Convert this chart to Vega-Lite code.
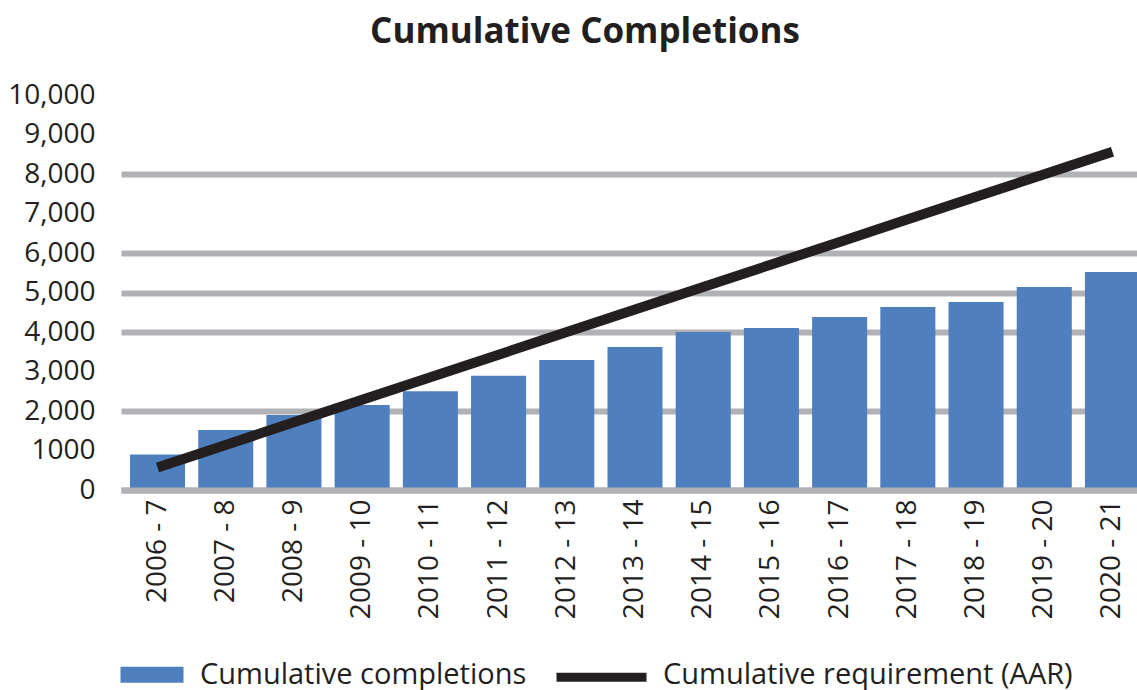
{
  "$schema": "https://vega.github.io/schema/vega-lite/v6.json",
  "autosize": {"type": "none"},
  "padding": {"left": 121, "top": 95, "right": 0, "bottom": 200},
  "width": 1016,
  "height": 395,
  "background": "white",
  "config": {
    "view": {"stroke": null},
    "axisY": {
      "labelFont": "Open Sans",
      "labelFontSize": 28,
      "labelColor": "#231F20",
      "labelPadding": 26,
      "labelOverlap": false,
      "ticks": false,
      "tickSize": 0,
      "domain": false,
      "gridColor": "#B1B2B5",
      "gridWidth": 6
    }
  },
  "title": {
    "text": "Cumulative Completions",
    "font": "Open Sans",
    "fontSize": 35,
    "fontWeight": "bold",
    "color": "#231F20",
    "anchor": "middle",
    "frame": "group",
    "baseline": "alphabetic",
    "dx": -44,
    "offset": 3
  },
  "data": {
    "values": [
      {"period": "2006 - 7", "completions": 900, "requirement": 571},
      {"period": "2007 - 8", "completions": 1520, "requirement": 1142},
      {"period": "2008 - 9", "completions": 1900, "requirement": 1713},
      {"period": "2009 - 10", "completions": 2150, "requirement": 2284},
      {"period": "2010 - 11", "completions": 2500, "requirement": 2855},
      {"period": "2011 - 12", "completions": 2890, "requirement": 3426},
      {"period": "2012 - 13", "completions": 3290, "requirement": 3997},
      {"period": "2013 - 14", "completions": 3620, "requirement": 4568},
      {"period": "2014 - 15", "completions": 4000, "requirement": 5139},
      {"period": "2015 - 16", "completions": 4100, "requirement": 5710},
      {"period": "2016 - 17", "completions": 4380, "requirement": 6281},
      {"period": "2017 - 18", "completions": 4630, "requirement": 6852},
      {"period": "2018 - 19", "completions": 4760, "requirement": 7423},
      {"period": "2019 - 20", "completions": 5140, "requirement": 7994},
      {"period": "2020 - 21", "completions": 5520, "requirement": 8565}
    ]
  },
  "encoding": {
    "x": {
      "field": "period",
      "type": "ordinal",
      "sort": null,
      "scale": {"range": [0, 1028], "paddingInner": 0.193, "paddingOuter": 0.132},
      "axis": {
        "title": null,
        "labelAngle": -90,
        "labelFont": "Open Sans",
        "labelFontSize": 28,
        "labelColor": "#231F20",
        "labelPadding": 9,
        "labelOverlap": false,
        "ticks": false,
        "tickSize": 0,
        "domain": true,
        "domainColor": "#B1B2B5",
        "domainWidth": 6,
        "grid": false,
        "zindex": 1,
        "labelLimit": 0
      }
    }
  },
  "layer": [
    {
      "mark": {"type": "bar"},
      "encoding": {
        "y": {
          "field": "completions",
          "type": "quantitative",
          "scale": {"domain": [0, 10000], "nice": false},
          "axis": {
            "title": null,
            "values": [0, 1000, 2000, 3000, 4000, 5000, 6000, 7000, 8000, 9000, 10000],
            "labelExpr": "datum.value === 1000 ? '1000' : format(datum.value, ',')",
            "grid": true,
            "gridOpacity": {"condition": {"test": "datum.value === 0 || datum.value === 2000 || datum.value === 4000 || datum.value === 5000 || datum.value === 6000 || datum.value === 8000", "value": 1}, "value": 0}
          }
        },
        "color": {
          "datum": "Cumulative completions",
          "type": "nominal",
          "scale": {
            "domain": ["Cumulative completions", "Cumulative requirement (AAR)"],
            "range": ["#4F7FBF", "#231F20"]
          },
          "legend": {
            "title": null,
            "orient": "none",
            "legendX": 38,
            "legendY": 565,
            "direction": "horizontal",
            "columns": 2,
            "columnPadding": 29,
            "symbolSize": 400,
            "labelOffset": 12,
            "labelFont": "Open Sans",
            "labelFontSize": 29,
            "labelColor": "#231F20",
            "labelLimit": 0,
            "encode": {
              "symbols": {
                "update": {
                  "shape": {"signal": "datum.value === 'Cumulative completions' ? 'M-5.3,-0.8H1V0.8H-5.3Z' : 'M-8,-0.2H1V0.7H-8Z'"},
                  "fill": {"signal": "datum.value === 'Cumulative completions' ? '#4F7FBF' : '#231F20'"},
                  "stroke": {"value": "transparent"},
                  "strokeWidth": {"value": 0},
                  "opacity": {"value": 1}
                }
              }
            }
          }
        }
      }
    },
    {
      "mark": {"type": "line", "strokeWidth": 10, "strokeCap": "butt"},
      "encoding": {
        "y": {
          "field": "requirement",
          "type": "quantitative",
          "axis": {
            "title": null,
            "values": [0, 1000, 2000, 3000, 4000, 5000, 6000, 7000, 8000, 9000, 10000],
            "labelExpr": "datum.value === 1000 ? '1000' : format(datum.value, ',')",
            "grid": true,
            "gridOpacity": {"condition": {"test": "datum.value === 0 || datum.value === 2000 || datum.value === 4000 || datum.value === 5000 || datum.value === 6000 || datum.value === 8000", "value": 1}, "value": 0}
          }
        },
        "color": {"datum": "Cumulative requirement (AAR)", "type": "nominal"}
      }
    }
  ]
}
